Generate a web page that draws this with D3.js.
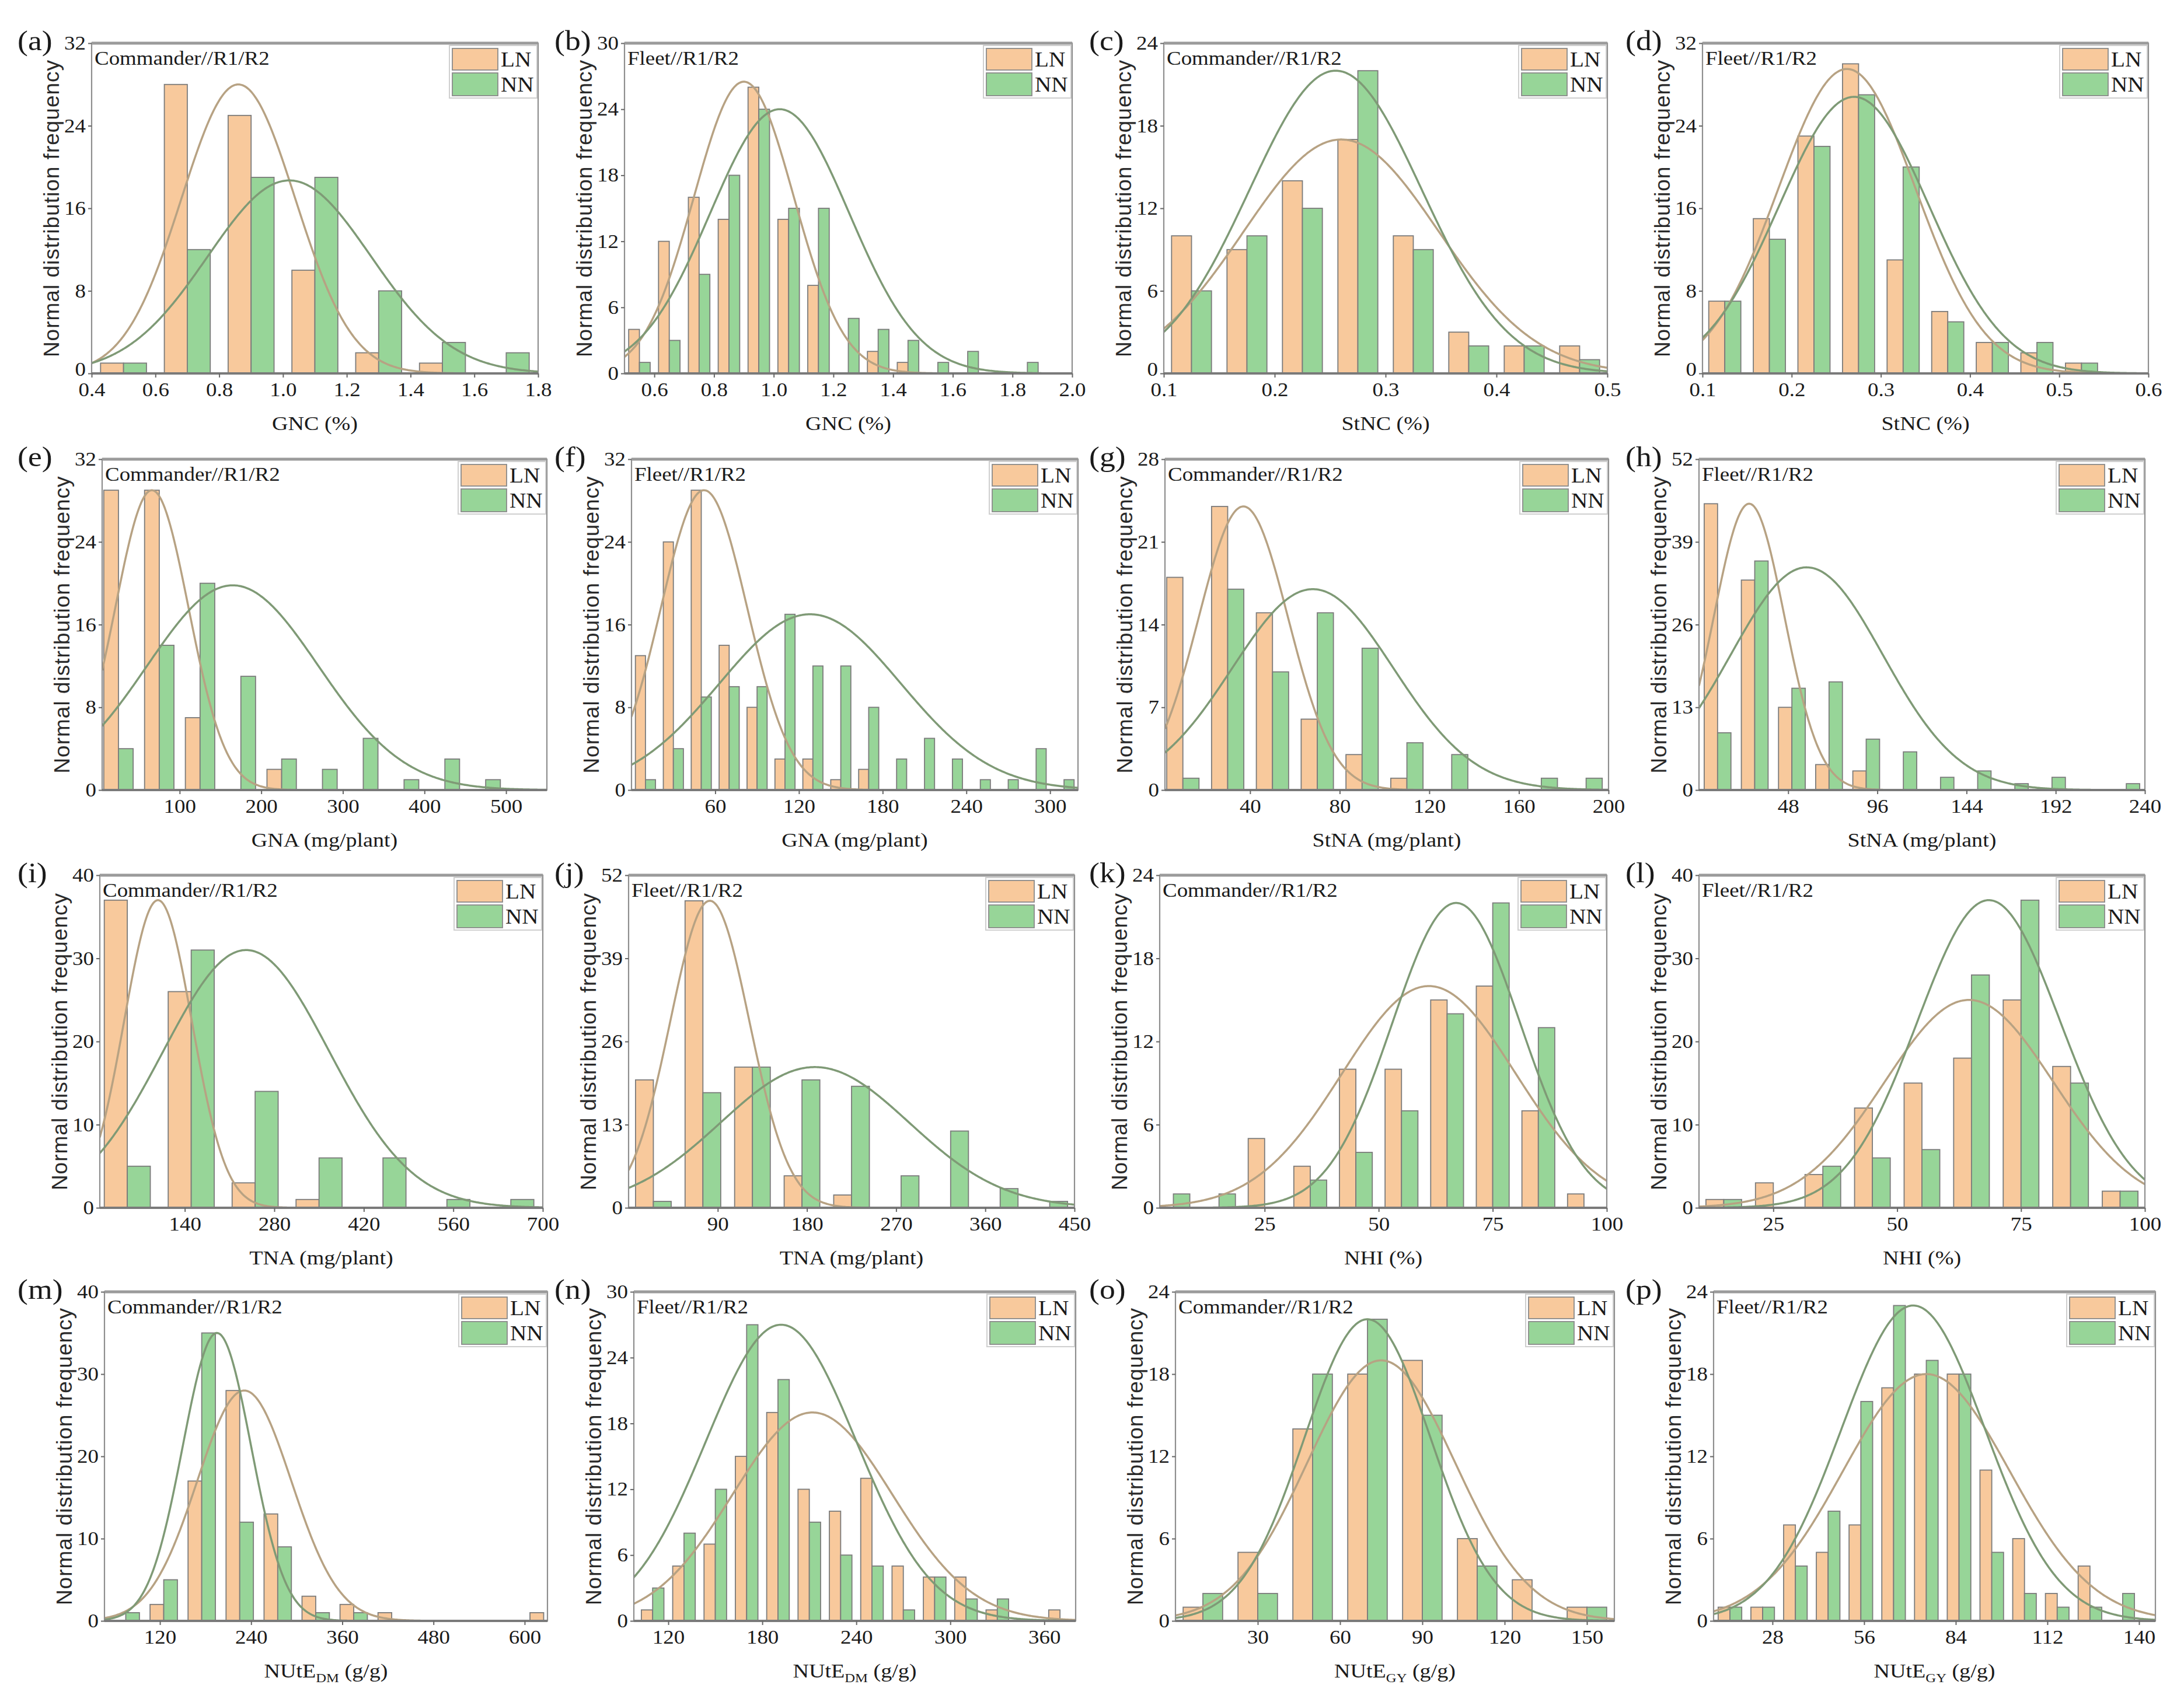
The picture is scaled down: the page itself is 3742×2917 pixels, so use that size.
<!DOCTYPE html>
<html>
<head>
<meta charset="utf-8">
<script src="https://cdn.jsdelivr.net/npm/d3@7/dist/d3.min.js"></script>
<style>
  body { margin: 0; background: #fff; }
</style>
</head>
<body>
<svg id="fig"></svg>
<script>
// ---- chart data ----
const panelLetters = ["(a)","(b)","(c)","(d)","(e)","(f)","(g)","(h)","(i)","(j)","(k)","(l)","(m)","(n)","(o)","(p)"];
const cultivars = ["Commander//R1/R2","Fleet//R1/R2","Commander//R1/R2","Fleet//R1/R2",
                   "Commander//R1/R2","Fleet//R1/R2","Commander//R1/R2","Fleet//R1/R2",
                   "Commander//R1/R2","Fleet//R1/R2","Commander//R1/R2","Fleet//R1/R2",
                   "Commander//R1/R2","Fleet//R1/R2","Commander//R1/R2","Fleet//R1/R2"];
// "|" marks a subscript part
const xTitles = ["GNC (%)","GNC (%)","StNC (%)","StNC (%)",
                 "GNA (mg/plant)","GNA (mg/plant)","StNA (mg/plant)","StNA (mg/plant)",
                 "TNA (mg/plant)","TNA (mg/plant)","NHI (%)","NHI (%)",
                 "NUtE|DM| (g/g)","NUtE|DM| (g/g)","NUtE|GY| (g/g)","NUtE|GY| (g/g)"];
const seriesNames = ["LN","NN"];

const xDomains = [[0.4,1.8],[0.5,2.0],[0.1,0.5],[0.1,0.6],
                  [5,550],[0,320],[2,200],[0,240],
                  [7,700],[0,450],[2,100],[10,100],
                  [47,630],[98,380],[0,160],[10,145]];
const xTickLabels = [
  ["0.4","0.6","0.8","1.0","1.2","1.4","1.6","1.8"],
  ["0.6","0.8","1.0","1.2","1.4","1.6","1.8","2.0"],
  ["0.1","0.2","0.3","0.4","0.5"],
  ["0.1","0.2","0.3","0.4","0.5","0.6"],
  ["100","200","300","400","500"],
  ["60","120","180","240","300"],
  ["40","80","120","160","200"],
  ["48","96","144","192","240"],
  ["140","280","420","560","700"],
  ["90","180","270","360","450"],
  ["25","50","75","100"],
  ["25","50","75","100"],
  ["120","240","360","480","600"],
  ["120","180","240","300","360"],
  ["30","60","90","120","150"],
  ["28","56","84","112","140"]
];
const yMax  = [32,30,24,32, 32,32,28,52, 40,52,24,40, 40,30,24,24];
const yStep = [ 8, 6, 6, 8,  8, 8, 7,13, 10,13, 6,10, 10, 6, 6, 6];

const binStarts = [0.4,0.5,0.1,0.1, 0,0,0,0, 0,0,0,10, 50,100,0,10];
const binWidths = [0.2,0.1,0.05,0.05, 50,20,20,20, 100,50,10,10, 50,20,20,10];

const lnCounts = [
  [1,28,25,10,2,1,0],
  [4,12,16,14,26,14,8,0,2,1,0,0,0,0],
  [10,9,14,17,10,3,2,2],
  [7,15,23,30,11,6,3,2,1],
  [29,29,7,0,2,0,0,0,0,0],
  [13,24,29,14,8,3,3,1,2,0,0,0,0,0,0,0],
  [18,24,15,6,3,1,0,0,0,0],
  [45,33,13,4,3,0,0,0,0,0,0,0],
  [37,26,3,1,0,0,0],
  [20,48,22,5,2,0,0,0,0],
  [0,0,5,3,10,10,15,16,7,1],
  [1,3,4,12,15,18,25,17,2],
  [0,2,17,28,13,3,2,1,0,0,0,1],
  [1,5,7,15,19,12,10,13,5,4,4,1,0,1],
  [1,5,14,18,19,6,3,1],
  [1,1,7,5,7,17,18,18,11,6,2,4,0]
];
const nnCounts = [
  [1,12,19,19,8,3,2],
  [1,3,9,18,24,15,15,5,4,3,1,2,0,1],
  [6,10,12,22,9,2,2,1],
  [7,13,22,27,20,5,3,3,1],
  [4,14,20,11,3,2,5,1,3,1],
  [1,4,9,10,10,17,12,12,8,3,5,3,1,1,4,1],
  [1,17,10,15,12,4,3,0,1,1],
  [9,36,16,17,8,6,2,3,1,2,0,1],
  [5,31,14,6,6,1,1],
  [1,18,22,20,19,5,12,3,1],
  [1,1,0,2,4,7,14,22,13,0],
  [1,0,5,6,7,28,37,15,2],
  [1,5,35,12,9,1,1,0,0,0,0,0],
  [3,8,12,27,22,9,6,5,1,4,2,2,0,0],
  [2,2,18,22,15,4,0,1],
  [1,1,4,8,16,23,19,18,5,2,1,1,2]
];
// fitted normal curves: [mean, sd, peak height]
const lnFit = [
  [0.86,0.178,28],[0.90,0.167,26.5],[0.26,0.088,17],[0.262,0.077,29.5],
  [66,45,29],[52,31,29],[37,20,24],[27,19,45],
  [98,53,37],[82,40,48],[61,19,16],[64.5,17,25],
  [231,62,28],[212,51,19],[75,27,19],[75,25.5,18]
];
const nnFit = [
  [1.02,0.256,18.7],[1.02,0.233,24],[0.255,0.0777,22],[0.27,0.084,26.8],
  [165,105,19.8],[128,65,17],[68,36,17],[58,41,35],
  [236,130,31],[188,95,22],[67,14,22],[68.5,14.4,37],
  [195,45,35],[192,48,27],[70,23,22],[71,22,23]
];

// ---- layout ----
const W = 3742, H = 2917;
const rowTop    = [74, 787, 1500, 2214];
const rowBottom = [640, 1354, 2070, 2778];
const plotLeft  = [157,1070,1994,2917, 175,1082,1996,2911, 171,1077,1987,2911, 179,1086,2014,2936];
const plotRight = [922,1837,2754,3681, 937,1847,2756,3675, 930,1841,2753,3675, 938,1843,2766,3693];
const letterX   = [30, 950, 1866, 2785];

const SX = 1.12;            // the source figure is slightly stretched horizontally
const serif = "'Liberation Serif', 'Times New Roman', serif";
const sans  = "'Liberation Sans', Arial, sans-serif";
const fillColors  = ["#F8C99C", "#97D598"];
const curveColors = ["#B7A283", "#7F9A76"];
const barFrac = 0.36;

const svg = d3.select("#fig")
  .attr("width", W).attr("height", H)
  .attr("viewBox", `0 0 ${W} ${H}`);
svg.append("rect").attr("width", W).attr("height", H).attr("fill", "#fff");
const defs = svg.append("defs");

function stretchedText(parent, X, Y, str, size, anchor) {
  return parent.append("text")
    .attr("transform", `translate(${X},${Y}) scale(${SX},1)`)
    .attr("text-anchor", anchor || "start")
    .attr("font-family", serif)
    .attr("font-size", size)
    .attr("fill", "#1a1a1a")
    .text(str);
}

function drawPanel(i) {
  const col = i % 4, row = Math.floor(i / 4);
  const left = plotLeft[i], right = plotRight[i];
  const top = rowTop[row], bottom = rowBottom[row];

  const x = d3.scaleLinear().domain(xDomains[i]).range([left, right]);
  const y = d3.scaleLinear().domain([0, yMax[i]]).range([bottom, top]);

  const g = svg.append("g");

  defs.append("clipPath").attr("id", "clip" + i)
    .append("rect").attr("x", left).attr("y", top)
    .attr("width", right - left).attr("height", bottom - top);
  const plot = g.append("g").attr("clip-path", `url(#clip${i})`);

  // histogram bars, LN left half and NN right half of each bin
  const bins = lnCounts[i].map((v, k) => ({
    c: binStarts[i] + binWidths[i] * (k + 0.5),
    vals: [v, nnCounts[i][k]]
  }));
  const bw = binWidths[i] * barFrac;
  [0, 1].forEach(s => {
    plot.selectAll(null)
      .data(bins.filter(d => d.vals[s] > 0))
      .join("rect")
      .attr("x", d => x(s === 0 ? d.c - bw : d.c))
      .attr("width", d => x(d.c + bw) - x(d.c))
      .attr("y", d => y(d.vals[s]))
      .attr("height", d => y(0) - y(d.vals[s]))
      .attr("fill", fillColors[s])
      .attr("stroke", "#7b7b7b")
      .attr("stroke-width", 1.8);
  });

  // normal curves
  const [d0, d1] = xDomains[i];
  const xs = d3.range(400).map(j => d0 + (d1 - d0) * j / 399);
  [lnFit[i], nnFit[i]].forEach((fit, s) => {
    const [m, sd, pk] = fit;
    const line = d3.line()
      .x(v => x(v))
      .y(v => y(pk * Math.exp(-((v - m) * (v - m)) / (2 * sd * sd))));
    plot.append("path")
      .attr("d", line(xs))
      .attr("fill", "none")
      .attr("stroke", curveColors[s])
      .attr("stroke-width", 3.5);
  });

  // frame
  g.append("rect")
    .attr("x", left).attr("y", top)
    .attr("width", right - left).attr("height", bottom - top)
    .attr("fill", "none").attr("stroke", "#8e8e8e").attr("stroke-width", 2.2);
  g.append("line").attr("x1", left).attr("x2", right).attr("y1", top).attr("y2", top)
    .attr("stroke", "#9b9b9b").attr("stroke-width", 5);
  g.append("line").attr("x1", left).attr("x2", right).attr("y1", bottom).attr("y2", bottom)
    .attr("stroke", "#7a7a7a").attr("stroke-width", 4);

  // axes
  const yAxis = d3.axisLeft(y)
    .tickValues(d3.range(0, yMax[i] + 1e-9, yStep[i]))
    .tickSize(6).tickPadding(4).tickSizeOuter(0);
  const xt = xTickLabels[i];
  const xAxis = d3.axisBottom(x)
    .tickValues(xt.map(Number))
    .tickFormat((d, k) => xt[k])
    .tickSize(7).tickPadding(9).tickSizeOuter(0);

  const ga = g.append("g").attr("transform", `translate(${left},0)`).call(yAxis);
  const gb = g.append("g").attr("transform", `translate(0,${bottom})`).call(xAxis);
  [ga, gb].forEach(a => {
    a.select(".domain").remove();
    a.selectAll(".tick line").attr("stroke", "#666").attr("stroke-width", 2);
    a.selectAll(".tick text")
      .attr("font-family", serif).attr("font-size", 33).attr("fill", "#1a1a1a")
      .each(function() {
        const t = d3.select(this);
        const xv = +t.attr("x") || 0;
        t.attr("transform", `translate(${xv * (1 - SX)},0) scale(${SX},1)`);
      });
  });
  // the "0" label sits right above the first x label when that tick is at the corner
  if (+xt[0] === xDomains[i][0]) {
    ga.selectAll(".tick text").filter(d => d === 0).attr("y", -7);
  }

  // y title
  g.append("text")
    .attr("transform", `translate(${left - 56},${(top + bottom) / 2}) rotate(-90)`)
    .attr("text-anchor", "middle")
    .attr("font-family", sans).attr("font-size", 37)
    .attr("letter-spacing", 1).attr("fill", "#2a2a2a")
    .text("Normal distribution frequency");

  // x title (with optional subscript)
  const parts = xTitles[i].split("|");
  const tx = stretchedText(g, (left + right) / 2, bottom + 97, "", 34, "middle");
  parts.forEach((p, k) => {
    const ts = tx.append("tspan").text(p);
    if (k % 2 === 1) ts.attr("font-size", 22).attr("dy", 8);
    else if (k > 0) ts.attr("dy", -8);
  });

  // panel letter and cultivar note
  stretchedText(g, letterX[col], top + 12, panelLetters[i], 48, "start");
  stretchedText(g, left + 5, top + 37, cultivars[i], 33, "start");

  // legend
  const lg = g.append("g");
  lg.append("rect")
    .attr("x", right - 152).attr("y", top + 4)
    .attr("width", 150).attr("height", 90)
    .attr("fill", "#fff").attr("stroke", "#cfcfcf").attr("stroke-width", 2);
  const swY = [top + 9, top + 51];
  const swH = [37, 39];
  seriesNames.forEach((name, s) => {
    lg.append("rect")
      .attr("x", right - 147).attr("y", swY[s])
      .attr("width", 78).attr("height", swH[s])
      .attr("fill", fillColors[s]).attr("stroke", "#8a8a8a").attr("stroke-width", 1.8);
    stretchedText(lg, right - 64, swY[s] + swH[s] / 2 + 12, name, 35, "start");
  });
}

panelLetters.forEach((_, i) => drawPanel(i));
</script>
</body>
</html>
